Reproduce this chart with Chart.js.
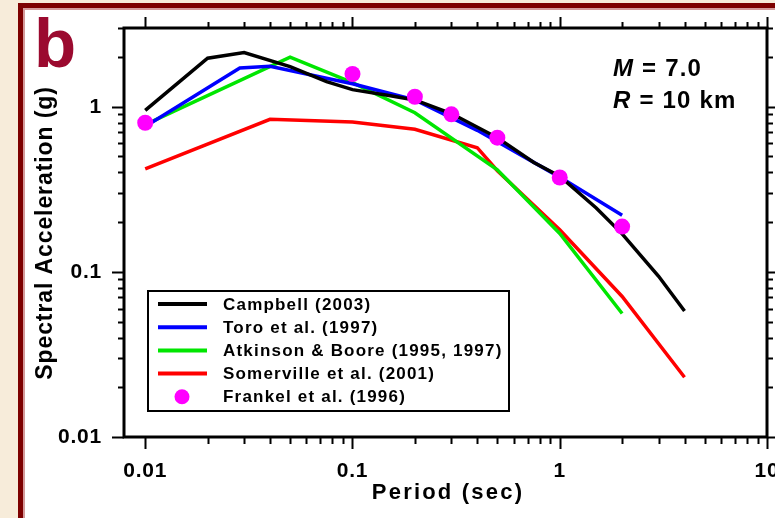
<!DOCTYPE html>
<html lang="en">
<head>
<meta charset="UTF-8">
<title>Spectral acceleration, M 7.0, R 10 km</title>
<script src="https://cdn.jsdelivr.net/npm/chart.js"></script>
<style>
    body {
        margin: 0;
        background-color: #f7ecda;
        width: 775px;
        height: 518px;
        overflow: hidden;
        position: relative;
    }
    /* maroon frame, white inside */
    .frame {
        position: absolute;
        left: 18px;
        top: 3px;
        width: 800px;
        height: 560px;
        background-color: #fff;
        border-left: 5px solid #7d0000;
        border-top: 5px solid #7d0000;
        box-shadow: inset 2px 2px 0 #d49a9a;
    }
    #chart {
        position: absolute;
        left: 0;
        top: 0;
    }
</style>
</head>
<body>
<div class="frame"></div>
<canvas id="chart" width="775" height="518"></canvas>

<script>
    // Campbell (2003)
    const campbellT  = [0.01, 0.02, 0.03, 0.05, 0.075, 0.1, 0.15, 0.2, 0.3, 0.5, 0.75, 1, 1.5, 2, 3, 4];
    const campbellSA = [0.95, 1.97, 2.13, 1.75, 1.42, 1.27, 1.17, 1.10, 0.91, 0.65, 0.46, 0.38, 0.244, 0.17, 0.094, 0.058];

    // Toro et al. (1997)
    const toroT  = [0.01, 0.0286, 0.04, 0.1, 0.2, 0.4, 1, 2];
    const toroSA = [0.76, 1.72, 1.76, 1.38, 1.10, 0.72, 0.375, 0.22];

    // Atkinson & Boore (1995, 1997)
    const abT  = [0.01, 0.05, 0.1, 0.2, 0.5, 1, 2];
    const abSA = [0.78, 2.0, 1.40, 0.92, 0.415, 0.171, 0.056];

    // Somerville et al. (2001)
    const somT  = [0.01, 0.04, 0.1, 0.2, 0.4, 0.5, 1, 2, 4];
    const somSA = [0.42, 0.84, 0.81, 0.73, 0.565, 0.41, 0.18, 0.071, 0.023];

    // Frankel et al. (1996)
    const frankelT  = [0.01, 0.1, 0.2, 0.3, 0.5, 1, 2];
    const frankelSA = [0.80, 1.58, 1.15, 0.90, 0.65, 0.373, 0.188];

    const xTickValues = [0.01, 0.1, 1, 10];
    const yTickValues = [0.01, 0.1, 1];

    const FONT = "'Liberation Sans', Arial, sans-serif";

    function pts(xs, ys) {
        return xs.map((x, i) => ({ x: x, y: ys[i] }));
    }

    function lineSet(label, xs, ys, color, order) {
        return {
            label: label,
            data: pts(xs, ys),
            borderColor: color,
            backgroundColor: color,
            borderWidth: 3.5,
            pointRadius: 0,
            tension: 0,
            order: order
        };
    }

    // ticks: 1..9 per decade, decades are the long ones
    function logTicks(min, max) {
        const out = [];
        for (let e = -3; e <= 1; e++) {
            for (let m = 1; m <= 9; m++) {
                const v = m * Math.pow(10, e);
                if (v >= min * 0.999 && v <= max * 1.001) out.push({ v: v, major: m === 1 });
            }
        }
        return out;
    }

    const decoPlugin = {
        id: 'deco',
        beforeDraw(chart) {
            chart.ctx.letterSpacing = '0.8px';
        },
        afterDatasetsDraw(chart) {
            const ctx = chart.ctx;
            const a = chart.chartArea;
            const xs = chart.scales.x;
            const ys = chart.scales.y;
            ctx.save();
            ctx.strokeStyle = '#000';
            ctx.lineWidth = 2;
            ctx.beginPath();
            logTicks(0.01, 10).forEach(t => {
                const px = Math.round(xs.getPixelForValue(t.v)) + 0.5;
                ctx.moveTo(px, a.bottom);
                ctx.lineTo(px, a.bottom + (t.major ? 12 : 7));
                ctx.moveTo(px, a.top);
                ctx.lineTo(px, a.top - (t.major ? 11 : 6));
            });
            logTicks(0.01, 3).forEach(t => {
                const py = Math.round(ys.getPixelForValue(t.v)) + 0.5;
                ctx.moveTo(a.left, py);
                ctx.lineTo(a.left - (t.major ? 12 : 6), py);
                ctx.moveTo(a.right, py);
                ctx.lineTo(a.right + (t.major ? 12 : 6), py);
            });
            ctx.stroke();
            ctx.lineWidth = 3;
            ctx.strokeRect(a.left, a.top, a.right - a.left, a.bottom - a.top);
            ctx.restore();
        },
        afterDraw(chart) {
            const ctx = chart.ctx;
            ctx.save();
            ctx.fillStyle = '#000';

            // axis titles
            ctx.font = 'bold 22px ' + FONT;
            ctx.letterSpacing = '2.2px';
            ctx.textAlign = 'center';
            ctx.textBaseline = 'alphabetic';
            ctx.fillText('Period (sec)', 448, 499);

            ctx.save();
            ctx.font = 'bold 23px ' + FONT;
            ctx.letterSpacing = '0.9px';
            ctx.translate(52, 233);
            ctx.rotate(-Math.PI / 2);
            ctx.fillText('Spectral Acceleration (g)', 0, 0);
            ctx.restore();

            // M and R note
            ctx.textAlign = 'left';
            ctx.letterSpacing = '1.2px';
            ctx.font = 'italic bold 24px ' + FONT;
            ctx.fillText('M', 613, 76);
            let w = ctx.measureText('M').width;
            ctx.font = 'bold 24px ' + FONT;
            ctx.fillText(' = 7.0', 613 + w, 76);
            ctx.font = 'italic bold 24px ' + FONT;
            ctx.fillText('R', 613, 108);
            w = ctx.measureText('R').width;
            ctx.font = 'bold 24px ' + FONT;
            ctx.fillText(' = 10 km', 613 + w, 108);

            // panel letter
            ctx.letterSpacing = '0px';
            ctx.fillStyle = '#9b0a2f';
            ctx.font = 'bold 69px ' + FONT;
            ctx.fillText('b', 34, 67);

            // legend
            const lx = 148, ly = 291, lw = 361, lh = 120;
            ctx.fillStyle = '#fff';
            ctx.fillRect(lx, ly, lw, lh);
            ctx.strokeStyle = '#000';
            ctx.lineWidth = 2;
            ctx.strokeRect(lx, ly, lw, lh);
            ctx.font = 'bold 17px ' + FONT;
            ctx.letterSpacing = '1.2px';
            ctx.textBaseline = 'middle';
            chart.data.datasets.forEach((ds, i) => {
                const ry = 304 + i * 23.2;
                if (ds.showLine === false) {
                    ctx.fillStyle = ds.backgroundColor;
                    ctx.beginPath();
                    ctx.arc(182, ry, 7.5, 0, Math.PI * 2);
                    ctx.fill();
                } else {
                    ctx.strokeStyle = ds.borderColor;
                    ctx.lineWidth = 4;
                    ctx.beginPath();
                    ctx.moveTo(158, ry);
                    ctx.lineTo(207, ry);
                    ctx.stroke();
                }
                ctx.fillStyle = '#000';
                ctx.fillText(ds.label, 223, ry + 1);
            });
            ctx.restore();
        }
    };

    const tickFont = { family: FONT, weight: 'bold', size: 21 };

    new Chart(document.getElementById('chart').getContext('2d'), {
        type: 'line',
        data: {
            datasets: [
                lineSet('Campbell (2003)', campbellT, campbellSA, '#000000', 1),
                lineSet('Toro et al. (1997)', toroT, toroSA, '#0000ff', 2),
                lineSet('Atkinson & Boore (1995, 1997)', abT, abSA, '#00e600', 3),
                lineSet('Somerville et al. (2001)', somT, somSA, '#ff0000', 4),
                {
                    label: 'Frankel et al. (1996)',
                    data: pts(frankelT, frankelSA),
                    showLine: false,
                    backgroundColor: '#ff00ff',
                    borderColor: '#ff00ff',
                    borderWidth: 0,
                    pointRadius: 8,
                    order: 0
                }
            ]
        },
        options: {
            responsive: false,
            animation: false,
            layout: { padding: { left: 0, right: 6, top: 28, bottom: 0 } },
            plugins: {
                legend: { display: false },
                tooltip: { enabled: false }
            },
            scales: {
                x: {
                    type: 'logarithmic',
                    position: 'bottom',
                    min: 0.0079,
                    max: 10,
                    bounds: 'data',
                    grid: { display: false },
                    border: { display: false },
                    ticks: {
                        autoSkip: false,
                        maxRotation: 0,
                        padding: 14,
                        color: '#000',
                        font: tickFont,
                        callback: v => String(v)
                    },
                    afterBuildTicks: s => { s.ticks = xTickValues.map(v => ({ value: v })); },
                    afterFit: s => { s.height = 81; s.paddingLeft = 0; s.paddingRight = 0; }
                },
                y: {
                    type: 'logarithmic',
                    min: 0.01,
                    max: 3,
                    bounds: 'data',
                    grid: { display: false },
                    border: { display: false },
                    ticks: {
                        autoSkip: false,
                        padding: 14,
                        color: '#000',
                        font: tickFont,
                        callback: v => String(v)
                    },
                    afterBuildTicks: s => { s.ticks = yTickValues.map(v => ({ value: v })); },
                    afterFit: s => { s.width = 124; s.paddingTop = 0; s.paddingBottom = 0; }
                }
            }
        },
        plugins: [decoPlugin]
    });
</script>
</body>
</html>
